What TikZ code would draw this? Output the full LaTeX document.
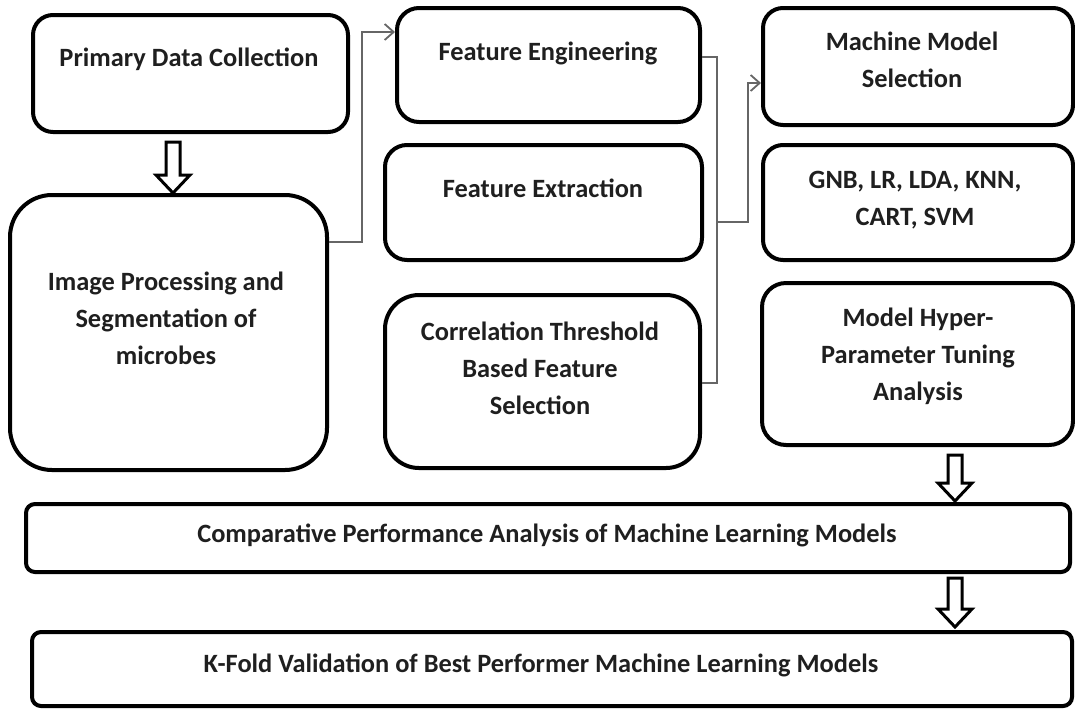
\documentclass[tikz,border=0pt]{standalone}
\usepackage{fontspec}
\setmainfont{Carlito}
\usetikzlibrary{arrows.meta}
\begin{document}
\begin{tikzpicture}[x=1pt,y=-1pt,
  box/.style={draw=black, line width=4pt, fill=white, inner sep=0pt},
  txt/.style={align=center, text=black!88, font=\bfseries\fontsize{26.4}{37}\selectfont, inner sep=0pt},
  link/.style={draw=black!60, line width=2.2pt},
  hollowline/.style={draw=black, line width=3pt, fill=white, line join=miter},
  pics/hollow/.style={code={
    \draw[hollowline] (-7,0) -- (-7,#1) -- (-17,#1) -- (0,#1+18) -- (17,#1) -- (7,#1) -- (7,0) -- cycle;}}
]
\useasboundingbox (0,0) rectangle (1075,713);

% left column
\node[box, rounded corners=20pt, minimum width=315pt, minimum height=117pt] (pdc) at (190.5,73.5) {};
\node[txt] (pdct) at (189,59) {Primary Data Collection};
\node[box, rounded corners=42pt, minimum width=317pt, minimum height=275pt] (imp) at (168.5,332.5) {};
\node[txt] (impt) at (166,318) {Image Processing and\\Segmentation of\\microbes};

% middle column
\node[box, rounded corners=22pt, minimum width=303pt, minimum height=114pt] (feng) at (548.5,65) {};
\node[txt] (fengt) at (548,53) {Feature Engineering};
\node[box, rounded corners=22pt, minimum width=317pt, minimum height=115pt] (fext) at (543.5,202.5) {};
\node[txt] (fextt) at (543,188) {Feature Extraction};
\node[box, rounded corners=34pt, minimum width=315pt, minimum height=173pt] (corr) at (542.5,381.5) {};
\node[txt] (corrt) at (540,368) {Correlation Threshold\\Based Feature\\Selection};

% right column
\node[box, rounded corners=20pt, minimum width=310pt, minimum height=117pt] (mms) at (918,66.5) {};
\node[txt] (mmst) at (912,60) {Machine Model\\Selection};
\node[box, rounded corners=20pt, minimum width=310pt, minimum height=115pt] (algs) at (918,202.5) {};
\node[txt] (algst) at (915,200) {GNB, LR, LDA, KNN,\\CART, SVM};
\node[box, rounded corners=24pt, minimum width=311pt, minimum height=162pt] (hyp) at (917.5,364) {};
\node[txt] (hypt) at (918,356) {Model Hyper-\\Parameter Tuning\\Analysis};

% bottom rows
\node[box, rounded corners=9pt, minimum width=1044pt, minimum height=68pt] (comp) at (548,538) {};
\node[txt] (compt) at (547,535) {Comparative Performance Analysis of Machine Learning Models};
\node[box, rounded corners=9pt, minimum width=1040pt, minimum height=74pt] (kfold) at (552,669) {};
\node[txt] (kfoldt) at (541,665) {K-Fold Validation of Best Performer Machine Learning Models};

% connector levels
\coordinate (yA) at (0,242);
\coordinate (yB) at (0,32);
\coordinate (yC) at (0,57);
\coordinate (yD) at (0,383);
\coordinate (yE) at (0,222);
\coordinate (yF) at (0,83);
\coordinate (xA) at (362,0);
\coordinate (xB) at (717,0);
\coordinate (xC) at (748,0);

% image processing -> feature engineering
\draw[link, -{Straight Barb[length=9pt,width=16pt,line width=1.8pt]}]
  (imp.east |- yA) -- (xA |- yA) -- (xA |- yB) -- (feng.west |- yB);

% feature bracket -> machine model selection
\draw[link] (feng.east |- yC) -- (xB |- yC) -- (xB |- yD) -- (corr.east |- yD);
\draw[link, -{Straight Barb[length=9pt,width=16pt,line width=1.8pt]}]
  (xB |- yE) -- (xC |- yE) -- (xC |- yF) -- (mms.west |- yF);

% block arrows between stages
\pic at (173,142) {hollow=33};
\pic at (955,455) {hollow=28};
\pic at (955,578) {hollow=31};
\end{tikzpicture}
\end{document}
